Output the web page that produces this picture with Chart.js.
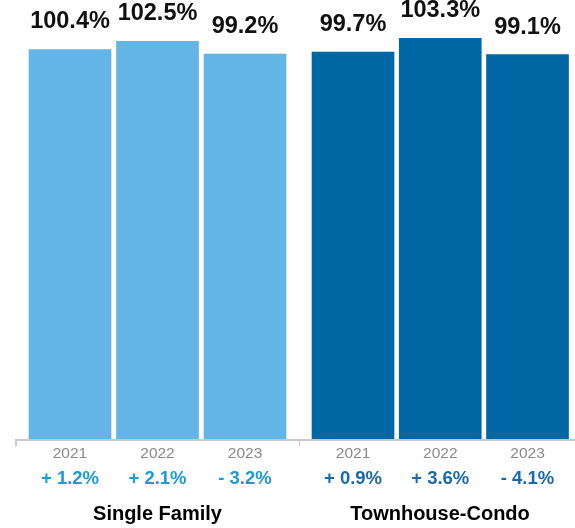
<!DOCTYPE html>
<html>
<head>
<meta charset="utf-8">
<script src="https://cdn.jsdelivr.net/npm/chart.js@4/dist/chart.umd.min.js"></script>
<style>
  html, body { margin: 0; padding: 0; background: #ffffff; }
  body { width: 575px; height: 528px; position: relative; overflow: hidden; }
  canvas { position: absolute; top: 0; }
  #c1 { left: 0; }
  #c2 { left: 299px; }
</style>
</head>
<body>
<canvas id="c1" width="299" height="530"></canvas>
<canvas id="c2" width="282" height="530"></canvas>
<script>
// ---- data ----
const years = ['2021', '2022', '2023'];
const groupTitles = ['Single Family', 'Townhouse-Condo'];
const singleFamily = [100.4, 102.5, 99.2];
const townhouseCondo = [99.7, 103.3, 99.1];
const singleFamilyChange = ['+ 1.2%', '+ 2.1%', '- 3.2%'];
const townhouseCondoChange = ['+ 0.9%', '+ 3.6%', '- 4.1%'];

const FONT = '"Liberation Sans", Arial, Helvetica, sans-serif';

const valueLabelPlugin = {
  id: 'valueLabels',
  afterDatasetsDraw(chart) {
    const ctx = chart.ctx;
    const meta = chart.getDatasetMeta(0);
    const vals = chart.data.datasets[0].data;
    ctx.save();
    ctx.font = 'bold 23.5px ' + FONT;
    ctx.fillStyle = '#111111';
    ctx.textAlign = 'center';
    ctx.textBaseline = 'alphabetic';
    meta.data.forEach((bar, i) => {
      ctx.fillText(vals[i].y.toFixed(1) + '%', bar.x, bar.y - 21);
    });
    ctx.restore();
  }
};

function makeChart(id, values, changes, title, barColor, changeColor, xmin, xmax, pad) {
  const n = values.length;
  return new Chart(document.getElementById(id), {
    type: 'bar',
    data: {
      datasets: [{
        data: values.map((v, i) => ({ x: i, y: v })),
        backgroundColor: barColor,
        borderWidth: 0,
        barThickness: 82
      }]
    },
    options: {
      responsive: false,
      animation: false,
      devicePixelRatio: 1,
      layout: { padding: pad },
      plugins: { legend: { display: false }, tooltip: { enabled: false } },
      scales: {
        y: {
          display: false,
          min: -0.39,
          max: 113.16
        },
        x: {
          type: 'linear',
          position: 'bottom',
          weight: 0,
          min: xmin,
          max: xmax,
          offset: false,
          afterBuildTicks(scale) {
            scale.ticks = [{ value: xmin }].concat(values.map((v, i) => ({ value: i })), [{ value: xmax }]);
          },
          border: { display: true, color: '#c8c8c8', width: 2 },
          grid: {
            offset: false,
            drawOnChartArea: false,
            drawTicks: true,
            tickLength: 6,
            lineWidth: 2,
            color: (c) => (c.index === 0 ? '#c8c8c8' : 'rgba(0,0,0,0)')
          },
          ticks: {
            autoSkip: false,
            maxRotation: 0,
            padding: -1.5,
            color: '#8a8a8a',
            font: { family: FONT, size: 15.5 },
            callback: (v, i) => (i >= 1 && i <= n ? years[i - 1] : '')
          }
        },
        x2: {
          type: 'linear',
          position: 'bottom',
          weight: 1,
          min: xmin,
          max: xmax,
          offset: false,
          afterBuildTicks(scale) {
            scale.ticks = values.map((v, i) => ({ value: i }));
          },
          border: { display: false },
          grid: { display: false },
          ticks: {
            autoSkip: false,
            maxRotation: 0,
            padding: -2,
            color: changeColor,
            font: { family: FONT, size: 18.5, weight: 'bold' },
            callback: (v, i) => changes[i]
          },
          title: {
            display: true,
            text: title,
            color: '#000000',
            font: { family: FONT, size: 20, weight: 'bold' },
            padding: { top: 14, bottom: 4 }
          }
        }
      }
    },
    plugins: [valueLabelPlugin]
  });
}

makeChart('c1', singleFamily, singleFamilyChange, groupTitles[0], '#62b5e5', '#1b9bd7',
  -0.617, 2.617, { left: 16, right: 0, top: 0, bottom: 0 });
makeChart('c2', townhouseCondo, townhouseCondoChange, groupTitles[1], '#0067a5', '#1a6aa9',
  -0.619, 2.613, { left: 0, right: 0, top: 0, bottom: 0 });
</script>
</body>
</html>
